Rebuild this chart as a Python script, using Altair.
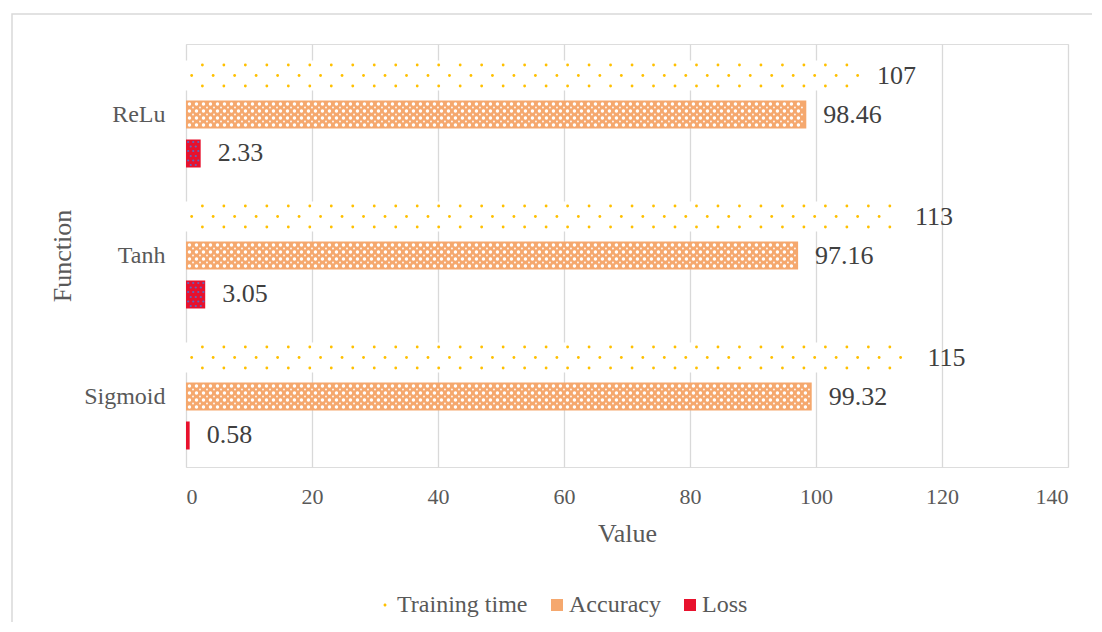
import altair as alt
import pandas as pd

# ---- data ----
functions = ["ReLu", "Tanh", "Sigmoid"]
series = ["Training time", "Accuracy", "Loss"]
training_time = [107, 113, 115]
accuracy = [98.46, 97.16, 99.32]
loss = [2.33, 3.05, 0.58]
x_ticks = [0, 20, 40, 60, 80, 100, 120, 140]

rows = []
for i, f in enumerate(functions):
    for s, vals in zip(series, [training_time, accuracy, loss]):
        rows.append({"function": f, "series": s, "value": vals[i]})
df = pd.DataFrame(rows)

# ---- layout / style ----
FONT = "Liberation Serif"
GRAY = "#595959"
GOLD = "#FFC000"
ORANGE = "#F5A86E"
RED = "#E8112D"
BLUE = "#4F6FD0"
PLOT_W, PLOT_H = 882, 423
STEP = PLOT_H / len(functions)
PI, PO = 0.282, 0.449
SUB = STEP / (len(series) - PI + 2 * PO)
BW = SUB * (1 - PI)
CENTER = {s: PO * SUB + k * SUB + BW / 2 for k, s in enumerate(series)}

xscale = alt.Scale(domain=[0, 140], nice=False)
yscale = alt.Scale(paddingInner=0, paddingOuter=0)

x_axis = alt.Axis(values=x_ticks, grid=True, gridColor="#D9D9D9", gridWidth=1.3,
                  domain=False, ticks=False, labelFont=FONT, labelFontSize=22,
                  labelColor=GRAY, labelPadding=19, titleFont=FONT, titleFontSize=26,
                  titleColor=GRAY, titleFontWeight="normal", titlePadding=13)
y_axis = alt.Axis(grid=False, domain=False, ticks=False, labelFont=FONT,
                  labelFontSize=24, labelColor=GRAY, labelPadding=21,
                  titleFont=FONT, titleFontSize=26, titleColor=GRAY,
                  titleFontWeight="normal", titlePadding=8)

base = alt.Chart(df)

y_enc = alt.Y("function:N", sort=functions, title="Function", scale=yscale, axis=y_axis)
x_enc = alt.X("value:Q", title="Value", scale=xscale, axis=x_axis)
yoff = alt.YOffset("series:N", sort=series,
                   scale=alt.Scale(paddingInner=PI, paddingOuter=PO))

frame = alt.Chart(alt.Data(values=[{}])).mark_rect(
    fillOpacity=0, stroke="#D9D9D9", strokeWidth=1.5
).encode(x=alt.value(-174), x2=alt.value(1200), y=alt.value(-30), y2=alt.value(800))

leg = alt.Legend(title=None, orient="none", legendX=187, legendY=549,
                 direction="horizontal")

bars = base.mark_bar().encode(
    y=y_enc, x=x_enc, yOffset=yoff,
    fill=alt.Fill("series:N", sort=series,
                  scale=alt.Scale(domain=series, range=[GOLD, ORANGE, RED]),
                  legend=leg),
)
# training-time bars are white underneath their dot pattern
tt_white = base.transform_filter(alt.datum.series == "Training time").mark_bar(
    color="#FFFFFF", stroke="#FFFFFF", strokeWidth=2).encode(y=y_enc, x=x_enc, yOffset=yoff)

dot_path = "M-0.25,0A0.25,0.25 0 1,0 0.25,0A0.25,0.25 0 1,0 -0.25,0Z"
legend_shape = base.mark_point(filled=True, opacity=0, size=1).encode(
    x=x_enc, y=y_enc,
    shape=alt.Shape("series:N", sort=series,
                    scale=alt.Scale(domain=series, range=[dot_path, "square", "square"]),
                    legend=leg),
)


def pattern(sname, start, step, end_pad, dy, mark):
    return (
        base.transform_filter(alt.datum.series == sname)
        .transform_calculate(px=f"sequence({start}, datum.value - {end_pad}, {step})")
        .transform_flatten(["px"])
        .mark_point(yOffset=dy, **mark)
        .encode(
            x=alt.X("px:Q", title="Value", scale=xscale, axis=x_axis),
            y=alt.Y("function:N", sort=functions, title="Function", bandPosition=0,
                    scale=yscale, axis=y_axis),
        )
    )


layers = [frame, bars, tt_white, legend_shape]
# training time: diamond lattice of small gold dots
c = CENTER["Training time"]
dot = dict(shape="circle", filled=True, size=8, color=GOLD, opacity=1)
layers.append(pattern("Training time", 2.6, 3.41, 0.3, c - 10.5, dot))
layers.append(pattern("Training time", 0.9, 3.41, 0.3, c, dot))
layers.append(pattern("Training time", 2.6, 3.41, 0.3, c + 10.5, dot))
# accuracy: orange crosshatch with white holes
c = CENTER["Accuracy"]
hole = dict(shape="circle", filled=True, size=12, color="#FFFFFF", opacity=1)
small = dict(shape="circle", filled=True, size=4, color="#FFFFFF", opacity=0.9)
for off in [-10.5, -3.5, 3.5, 10.5]:
    layers.append(pattern("Accuracy", 0.55, 1.111, 0.3, c + off, hole))
for off in [-7, 0, 7]:
    layers.append(pattern("Accuracy", 1.11, 1.111, 0.3, c + off, small))
# loss: blue dots on red
c = CENTER["Loss"]
bdot = dict(shape="circle", filled=True, size=5, color=BLUE, opacity=0.9)
for k, off in enumerate([-11.5, -7, -2.5, 2.5, 7, 11.5]):
    layers.append(pattern("Loss", 0.35 if k % 2 == 0 else 0.75, 0.8, 0.25, c + off, bdot))

labels = base.mark_text(align="left", baseline="middle", dx=17, fontSize=26,
                        font=FONT, color="#404040").encode(
    y=y_enc, x=x_enc, yOffset=yoff, text=alt.Text("value:Q"))
layers.append(labels)

chart = (
    alt.layer(*layers)
    .properties(
        width=PLOT_W, height=PLOT_H,
        autosize=alt.AutoSizeParams(type="none"),
        padding={"left": 178, "top": 36, "right": 24, "bottom": 155},
    )
    .configure_view(stroke="transparent", strokeWidth=0)
    .configure(font=FONT)
    .configure_axis(labelFont=FONT, titleFont=FONT)
    .configure_legend(labelFont=FONT, labelFontSize=24, labelColor=GRAY,
                      symbolSize=144, labelOffset=0, columnPadding=17,
                      symbolStrokeWidth=0, symbolOpacity=1)
)

chart.save("out.html", embed_options={"renderer": "svg", "actions": False})
